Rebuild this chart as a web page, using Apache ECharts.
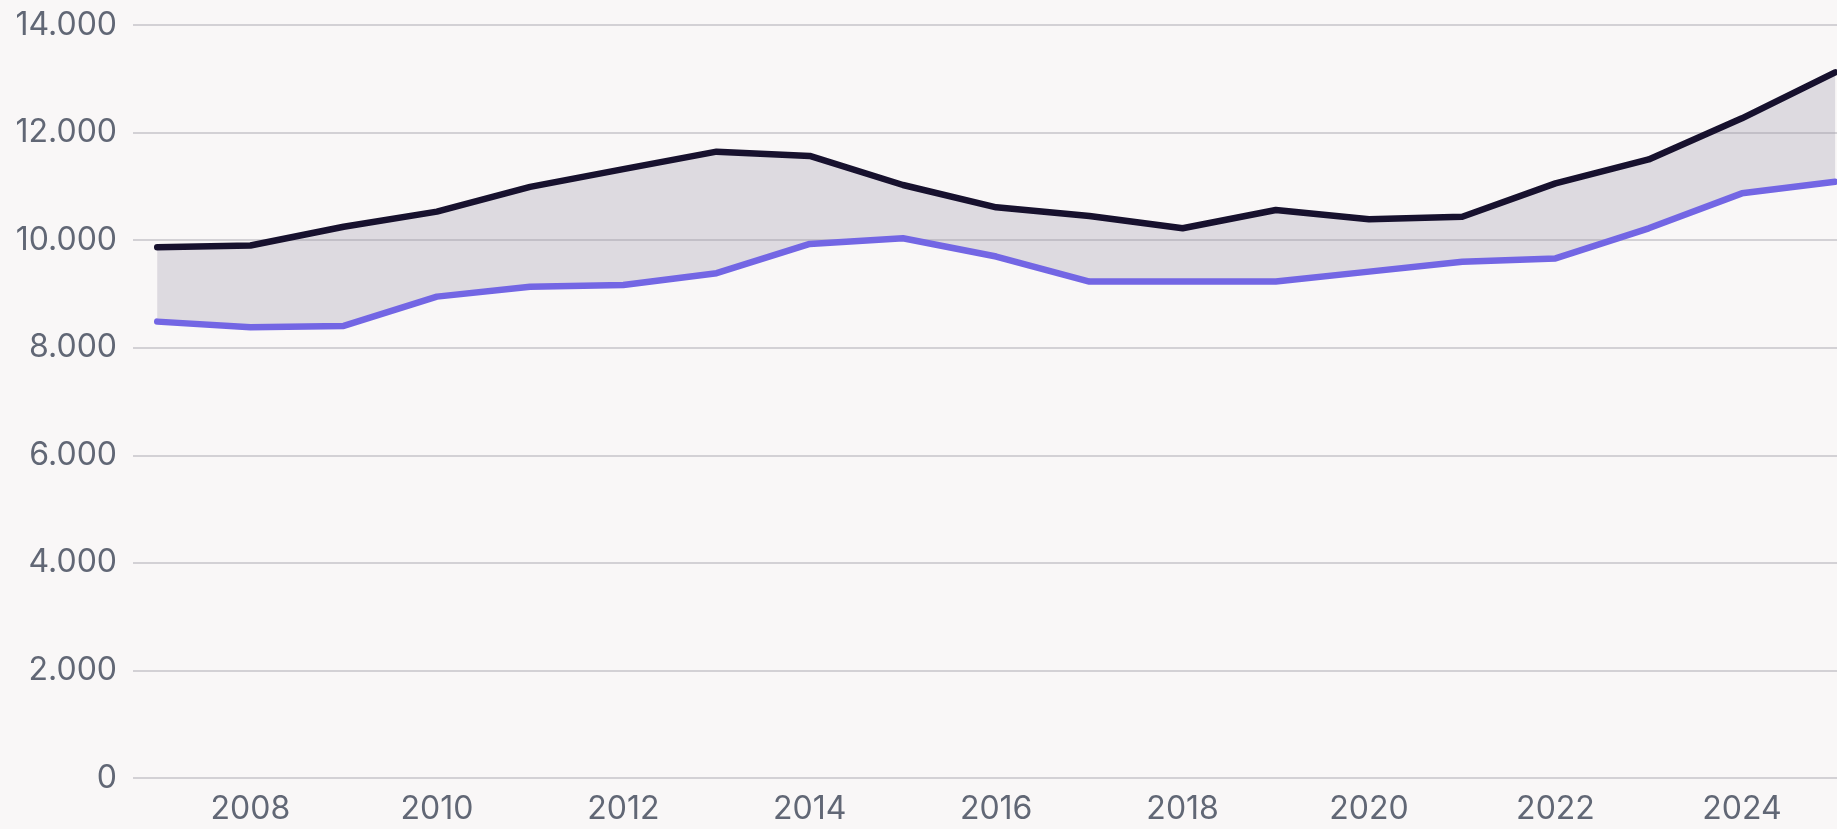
<!DOCTYPE html>
<html>
<head>
<meta charset="utf-8">
<script src="https://cdn.jsdelivr.net/npm/echarts@6/dist/echarts.min.js"></script>
<style>
html,body{margin:0;padding:0;background:#f9f7f7;}
#chart{width:1837px;height:829px;}
</style>
</head>
<body>
<div id="chart"></div>
<script>
var years = [2007,2008,2009,2010,2011,2012,2013,2014,2015,2016,2017,2018,2019,2020,2021,2022,2023,2024,2025];
var upperSeries = [9870,9900,10250,10530,10990,11320,11645,11565,11025,10610,10450,10220,10560,10390,10435,11055,11500,12265,13120];
var lowerSeries = [8485,8380,8405,8950,9135,9165,9385,9930,10035,9695,9230,9230,9230,9415,9600,9660,10220,10870,11085];
var xTickLabels = [2008,2010,2012,2014,2016,2018,2020,2022,2024];
var yTicks = [0,2000,4000,6000,8000,10000,12000,14000];

var lowerPts = years.map(function(y,i){return [y, lowerSeries[i]];});
var upperPts = years.map(function(y,i){return [y, upperSeries[i]];});
var bandRows = years.map(function(y,i){return [y, lowerSeries[i], upperSeries[i]];});

var chart = echarts.init(document.getElementById('chart'));
var font = 'Inter';
chart.setOption({
  backgroundColor:'#f9f7f7',
  animation:false,
  grid:{left:133,right:0,top:25,bottom:51,containLabel:false},
  xAxis:{
    type:'value',
    min:2006.74, max:2025.02,
    axisLine:{show:false},
    axisTick:{show:false},
    splitLine:{show:false},
    axisLabel:{
      customValues:xTickLabels,
      color:'#616775', fontFamily:font, fontSize:32, margin:15,
      formatter:function(v){return String(v);}
    }
  },
  yAxis:{
    type:'value', min:0, max:14000, interval:2000,
    axisLine:{show:false}, axisTick:{show:false},
    splitLine:{lineStyle:{color:'#c6c5ca',width:1.6}},
    axisLabel:{
      color:'#616775', fontFamily:font, fontSize:32, margin:16,
      formatter:function(v){return v===0?'0':v.toLocaleString('de-DE');}
    }
  },
  series:[
    {
      type:'custom', silent:true, z:1,
      data:bandRows,
      encode:{x:0, y:[1,2]},
      renderItem:function(params, api){
        if (params.dataIndex !== 0) return null;
        var top = [], bottom = [];
        for (var i = 0; i < bandRows.length; i++) {
          top.push(api.coord([bandRows[i][0], bandRows[i][2]]));
          bottom.unshift(api.coord([bandRows[i][0], bandRows[i][1]]));
        }
        return {
          type:'polygon',
          shape:{points: top.concat(bottom)},
          style:{fill:'rgba(150,145,165,0.28)'}
        };
      }
    },
    {type:'line', z:3, data:lowerPts, symbol:'none', lineStyle:{color:'#7366e4', width:6.5, cap:'round', join:'round'}},
    {type:'line', z:4, data:upperPts, symbol:'none', lineStyle:{color:'#17112e', width:6.5, cap:'round', join:'round'}}
  ]
});
</script>
</body>
</html>
